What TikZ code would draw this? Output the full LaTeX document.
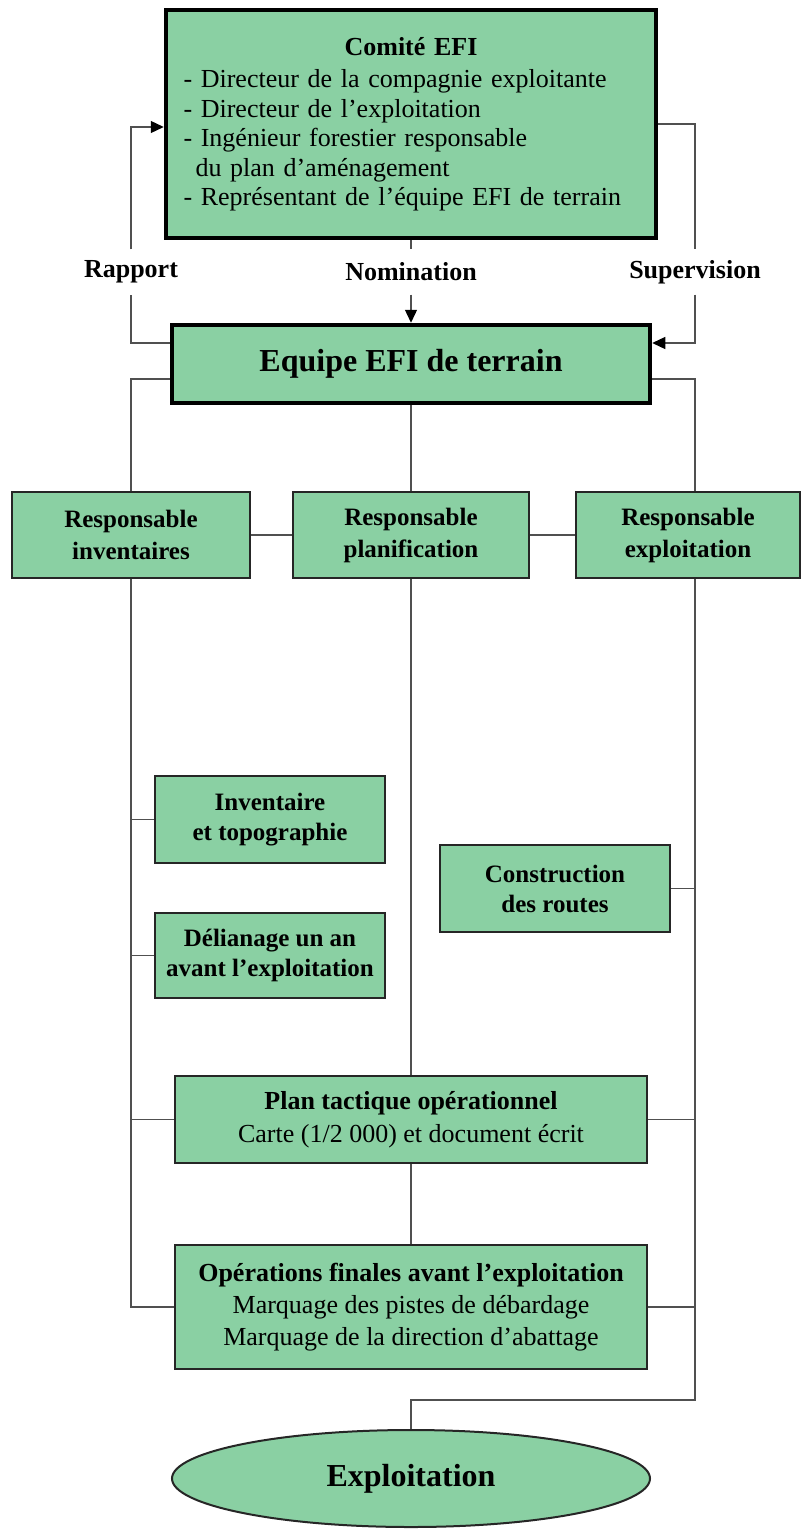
\documentclass[tikz,border=0pt]{standalone}
\usepackage{fontspec}
\setmainfont{Liberation Serif}
\usetikzlibrary{arrows.meta,shapes.geometric}
\definecolor{boxgreen}{RGB}{138,208,163}
\definecolor{linegray}{RGB}{80,80,80}
\begin{document}
\begin{tikzpicture}[x=1pt,y=-1pt,
  box/.style={draw=black!85, line width=2.5pt, fill=boxgreen, align=center, inner sep=0pt,
    font=\fontsize{25}{30}\selectfont\bfseries},
  bigbox/.style={box, line width=4.5pt, draw=black},
  conn/.style={draw=linegray, line width=1.3pt},
  arr/.style={conn, -{Triangle[length=13pt,width=12pt,color=black]}},
  lab/.style={fill=white, inner xsep=2pt, inner ysep=0pt, minimum height=45pt,
    font=\fontsize{26}{30}\selectfont\bfseries}]
\path[use as bounding box] (0,0) rectangle (803,1531);

% helper coordinates
\coordinate (R) at (695,0);
\coordinate (yRap) at (0,127);
\coordinate (ySup) at (0,124);
\coordinate (yUp) at (0,343);
\coordinate (yDown) at (0,379);
\coordinate (yBot) at (0,1400);

% nodes
\node[bigbox, minimum width=490pt, minimum height=228pt, text width=455pt, align=left,
  font=\fontsize{26}{29.5}\selectfont] (comite) at (411,124)
  {\makebox[455pt]{\bfseries Comité EFI}\\[3pt]
   - Directeur de la compagnie exploitante\\
   - Directeur de l'exploitation\\
   - Ingénieur forestier responsable\\
   \hspace*{12pt}du plan d'aménagement\\
   - Représentant de l'équipe EFI de terrain};

\node[lab] (rap) at (131,272) {Rapport};
\node[lab] (nom) at (411,272) {Nomination};
\node[lab] (sup) at (695,272) {Supervision};

\node[bigbox, minimum width=478pt, minimum height=78pt, font=\fontsize{32}{36}\selectfont\bfseries]
  (equipe) at (411,364) {Equipe EFI de terrain};

\node[box, minimum width=238pt, minimum height=86pt, font=\fontsize{25}{32}\selectfont\bfseries]
  (resp1) at (131,535) {Responsable\\inventaires};
\node[box, minimum width=236pt, minimum height=86pt, font=\fontsize{25}{32}\selectfont\bfseries]
  (resp2) at (411,535) {Responsable\\planification};
\node[box, minimum width=224pt, minimum height=86pt, font=\fontsize{25}{32}\selectfont\bfseries]
  (resp3) at (688,535) {Responsable\\exploitation};

\node[box, minimum width=230pt, minimum height=87pt] (inv) at (270,819.5)
  {Inventaire\\et topographie};
\node[box, minimum width=230pt, minimum height=85pt] (deli) at (270,955.5)
  {Délianage un an\\avant l'exploitation};
\node[box, minimum width=230pt, minimum height=87pt] (constr) at (555,888.5)
  {Construction\\des routes};

\node[box, minimum width=472pt, minimum height=87pt, font=\fontsize{26}{33}\selectfont]
  (plan) at (411,1119.5)
  {\textbf{Plan tactique opérationnel}\\Carte (1/2 000) et document écrit};

\node[box, minimum width=472pt, minimum height=124pt, font=\fontsize{26}{32}\selectfont]
  (oper) at (411,1307)
  {\textbf{Opérations finales avant l'exploitation}\\Marquage des pistes de débardage\\Marquage de la direction d'abattage};

\node[box, ellipse, line width=2pt, minimum width=478pt, minimum height=97pt,
  font=\fontsize{32}{36}\selectfont\bfseries] (expl) at (411,1478.5) {Exploitation};

% top connectors
\draw[conn] (equipe.west |- yUp) -| (rap.south);
\draw[arr] (rap.north) |- (comite.west |- yRap);
\draw[conn] (comite.south) -- (nom.north);
\draw[arr] (nom.south) -- (equipe.north);
\draw[conn] (comite.east |- ySup) -| (sup.north);
\draw[arr] (sup.south) |- (equipe.east |- yUp);

% left column
\draw[conn] (equipe.west |- yDown) -| (resp1.north);
\draw[conn] (resp1.south) |- (oper.west);
\draw[conn] (resp1.south |- inv.west) -- (inv.west);
\draw[conn] (resp1.south |- deli.west) -- (deli.west);
\draw[conn] (resp1.south |- plan.west) -- (plan.west);

% middle column
\draw[conn] (equipe.south) -- (resp2.north);
\draw[conn] (resp2.south) -- (plan.north);
\draw[conn] (plan.south) -- (oper.north);

% right column
\draw[conn] (equipe.east |- yDown) -| (resp3.north -| R);
\draw[conn] (resp3.south -| R) -- (R |- yBot) -| (expl.north);
\draw[conn] (constr.east) -- (constr.east -| R);
\draw[conn] (plan.east) -- (plan.east -| R);
\draw[conn] (oper.east) -- (oper.east -| R);

% horizontal links between responsables
\draw[conn] (resp1.east) -- (resp2.west);
\draw[conn] (resp2.east) -- (resp3.west);
\end{tikzpicture}
\end{document}
